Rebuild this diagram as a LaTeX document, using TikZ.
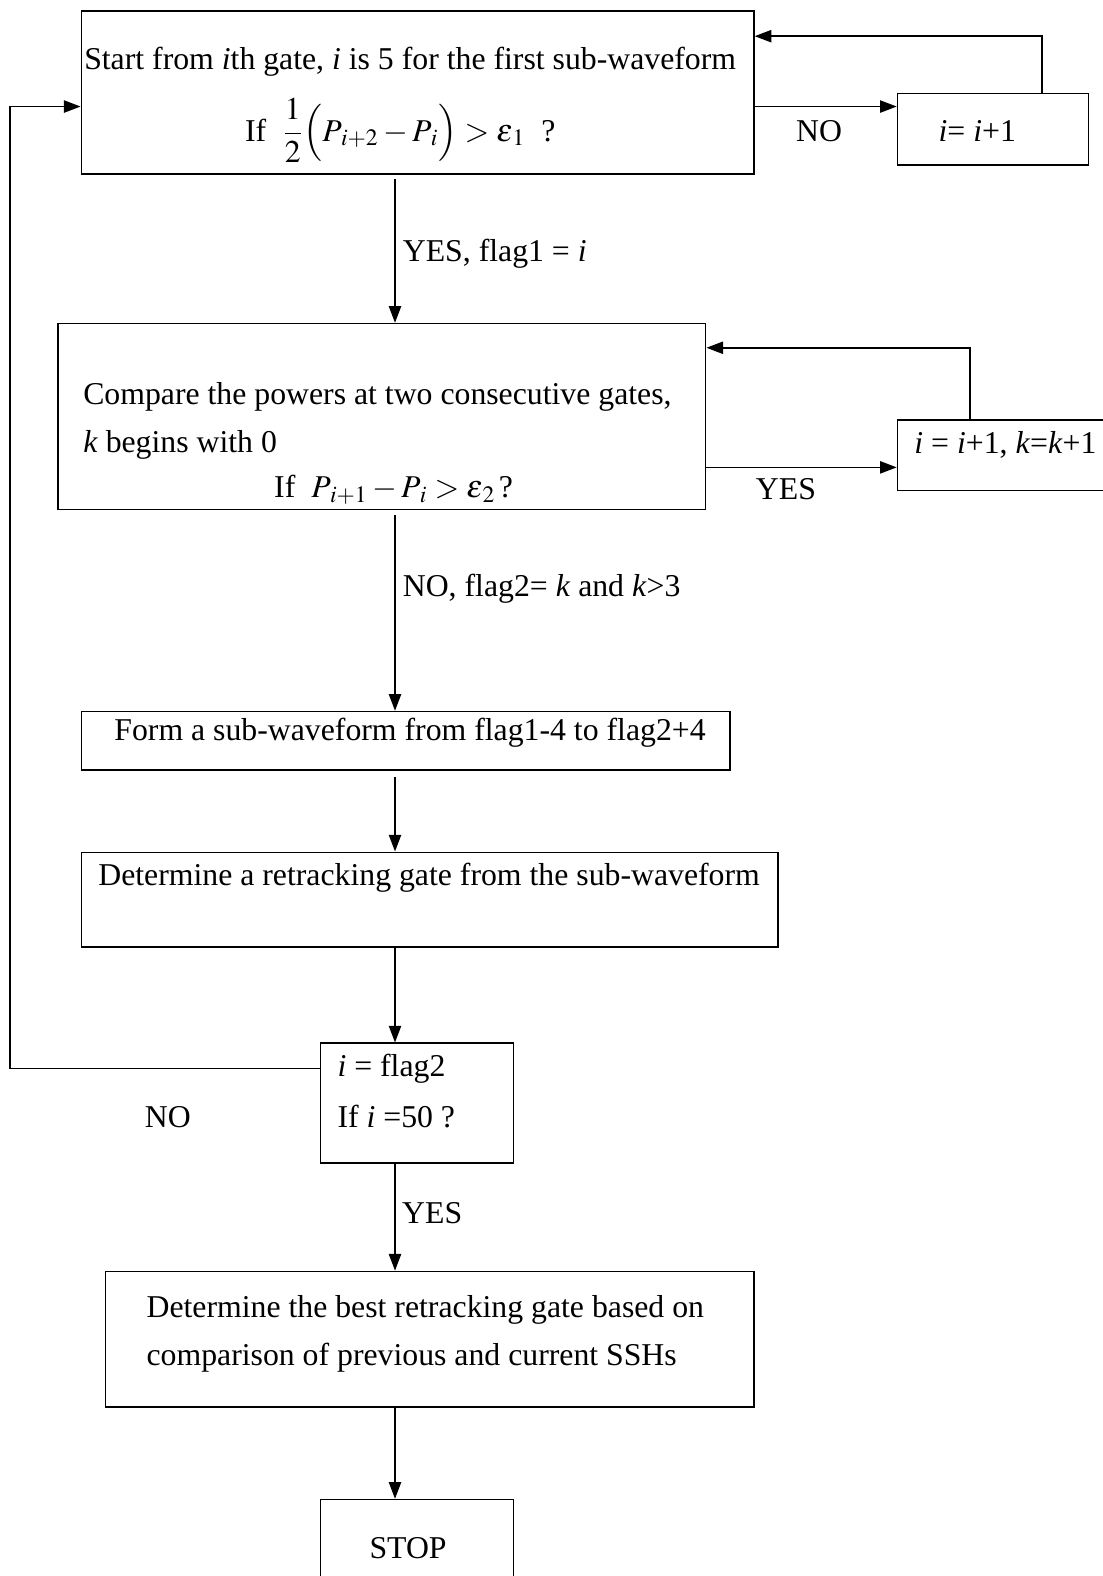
\documentclass[tikz,border=0pt]{standalone}
\usepackage{mathptmx}
\usepackage{fontspec}
\setmainfont{Liberation Serif}
\usetikzlibrary{arrows.meta,positioning,fit}

\begin{document}
\begin{tikzpicture}[x=0.4525pt, y=-0.4525pt, >={Triangle[length=7.5pt, width=5.5pt]}, line width=0.75pt,
font=\fontsize{14.3}{17}\selectfont,
box/.style={draw, rectangle, inner sep=0pt},
txt/.style={anchor=west, inner sep=0pt}]
  \useasboundingbox (0,0) rectangle (1097,1568);
  % boxes
  \node[box, fit={(81,11) (750,173)}] (start) {};
  \node[box, fit={(893,93) (1083,164)}] (inc1) {};
  \node[box, fit={(58,322) (702,507)}] (cmp) {};
  \node[box, fit={(893,418) (1115,488)}] (inc2) {};
  \node[box, fit={(81,708) (726,766)}] (form) {};
  \node[box, fit={(81,848) (774,942)}] (gate) {};
  \node[box, fit={(319,1038) (511,1157)}] (chk) {};
  \node[box, fit={(105,1265) (750,1400)}] (best) {};
  \node[box, fit={(319,1492) (511,1575)}] (stop) {};
  % texts
  \node[txt] (t1a) at (83,61) {Start from \textit{i}th gate, \textit{i} is 5 for the first sub-waveform};
  \node[txt] (t1b) at (243,130) {If \ $\displaystyle\frac{1}{2}\Bigl(P_{\kern1.5pt i+2}-P_{\kern1.5pt i}\Bigr)>\varepsilon_{\kern1pt 1}$ \ ?};
  \node[txt] (t2) at (933,130) {\textit{i}= \textit{i}+1};
  \node[txt] (t3a) at (82,395) {Compare the powers at two consecutive gates,};
  \node[txt] (t3b) at (82,443) {\textit{k} begins with 0};
  \node[txt] (t3c) at (272,487) {If \ $P_{\kern1.5pt i+1}-P_{\kern1.5pt i}>\varepsilon_{\kern1pt 2}\,$?};
  \node[txt] (t4) at (909,443) {\textit{i} = \textit{i}+1, \textit{k}=\textit{k}+1};
  \node[txt] (t5) at (113,729) {Form a sub-waveform from flag1-4 to flag2+4};
  \node[txt] (t6) at (97,873) {Determine a retracking gate from the sub-waveform};
  \node[txt] (t7a) at (335,1063) {\textit{i} = flag2};
  \node[txt] (t7b) at (335,1111) {If \textit{i} =50 ?};
  \node[txt] (t8a) at (145,1303) {Determine the best retracking gate based on};
  \node[txt] (t8b) at (145,1351) {comparison of previous and current SSHs};
  \node (t9) at (406,1540) {STOP};
  % connector labels
  \node (no1) at (815,130) {NO};
  \node[txt] (yes1) at (400,252) {YES, flag1 = \textit{i}};
  \node (yes2) at (782,487) {YES};
  \node[txt] (no2) at (400,586) {NO, flag2= \textit{k} and \textit{k}>3};
  \node (no3) at (167,1111) {NO};
  \node (yes3) at (430,1207) {YES};
  % helper points
  \coordinate (sp) at (393,0);
  \coordinate (noy) at (0,106);
  \coordinate (top1) at (1037,36);
  \coordinate (top2) at (965,346);
  \coordinate (yesy) at (0,465);
  \coordinate (nob) at (10,1063);
  \coordinate (ret) at (10,106);
  % connectors
  \draw[->] (start.east |- noy) -- (inc1.west |- noy);
  \draw[->] (inc1.north -| top1) -- (top1) -- (start.east |- top1);
  \draw[->, shorten <=2pt] (start.south -| sp) -- (cmp.north -| sp);
  \draw[->] (cmp.east |- yesy) -- (inc2.west |- yesy);
  \draw[->] (inc2.north -| top2) -- (top2) -- (cmp.east |- top2);
  \draw[->, shorten <=2pt] (cmp.south -| sp) -- (form.north -| sp);
  \draw[->, shorten <=3pt] (form.south -| sp) -- (gate.north -| sp);
  \draw[->] (gate.south -| sp) -- (chk.north -| sp);
  \draw[->] (chk.west |- nob) -- (nob) -- (ret) -- (start.west |- ret);
  \draw[->] (chk.south -| sp) -- (best.north -| sp);
  \draw[->] (best.south -| sp) -- (stop.north -| sp);
\end{tikzpicture}
\end{document}
